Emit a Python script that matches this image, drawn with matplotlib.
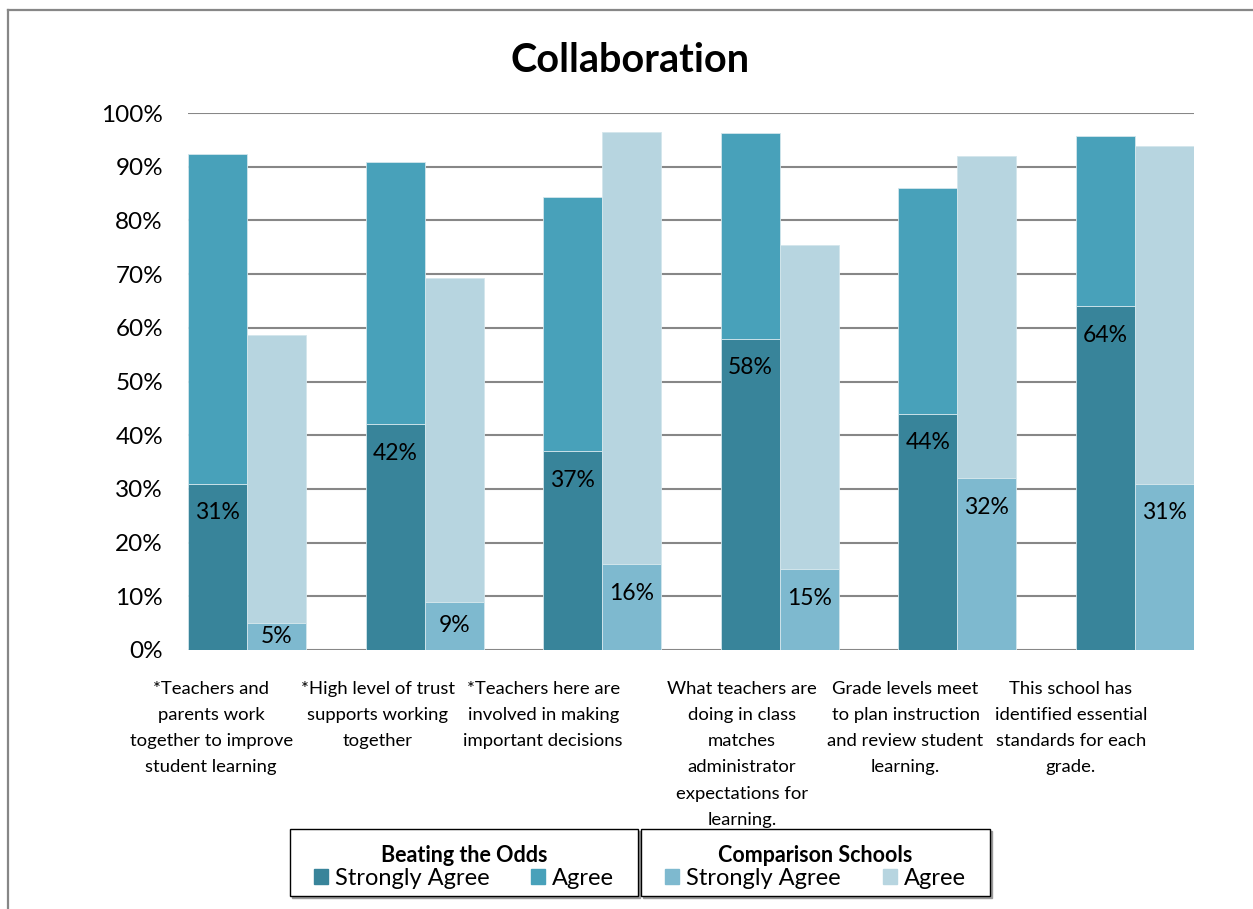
"""Collaboration survey: Beating the Odds vs Comparison Schools, stacked pairs."""
import matplotlib
matplotlib.use("Agg")
import matplotlib.pyplot as plt
import matplotlib.transforms as mtransforms
from matplotlib.patches import Patch, Rectangle
from matplotlib.lines import Line2D
import numpy as np

plt.rcParams["font.family"] = ["Lato", "DejaVu Sans"]

categories = [
    "*Teachers and\nparents work\ntogether to improve\nstudent learning",
    "*High level of trust\nsupports working\ntogether",
    "*Teachers here are\ninvolved in making\nimportant decisions",
    "What teachers are\ndoing in class\nmatches\nadministrator\nexpectations for\nlearning.",
    "Grade levels meet\nto plan instruction\nand review student\nlearning.",
    "This school has\nidentified essential\nstandards for each\ngrade.",
]
# percent of respondents
bto_strongly = [31, 42, 37, 58, 44, 64]
bto_agree = [61.4, 48.8, 47.3, 38.3, 42.1, 31.8]
cs_strongly = [5, 9, 16, 15, 32, 31]
cs_agree = [53.7, 60.3, 80.5, 60.4, 60.0, 62.9]
y_ticks = [0, 10, 20, 30, 40, 50, 60, 70, 80, 90, 100]

C_BTO_SA = "#38849A"
C_BTO_A = "#48A1BA"
C_CS_SA = "#7EB9CF"
C_CS_A = "#B7D5E0"
GRID = "#878787"

W, H = 1253, 909
fig = plt.figure(figsize=(W / 100, H / 100), dpi=100)
ax = fig.add_axes([188 / W, 1 - 650 / H, (1194 - 188) / W, (650 - 113) / H])

bw = 0.332
x = np.arange(len(categories))
edge = dict(edgecolor="#d3e6ec", linewidth=0.6, zorder=3)
ax.bar(x, bto_strongly, bw, align="edge", color=C_BTO_SA, **edge)
ax.bar(x, bto_agree, bw, bottom=bto_strongly, align="edge", color=C_BTO_A, **edge)
ax.bar(x + bw, cs_strongly, bw, align="edge", color=C_CS_SA, **edge)
ax.bar(x + bw, cs_agree, bw, bottom=cs_strongly, align="edge", color=C_CS_A, **edge)

# labels at the inside end of the strongly-agree segment
for xs, vals in ((x + bw / 2, bto_strongly), (x + 1.5 * bw, cs_strongly)):
    for xi, v in zip(xs, vals):
        yl = max(v - 5.4, v / 2)
        ax.text(xi, yl, f"{v:.0f}%", ha="center", va="center",
                fontsize=16.5, color="black", zorder=4)

ax.set_xlim(0, len(categories) - 1 + 2 * bw)
ax.set_ylim(0, 100)
ax.set_yticks(y_ticks)
ax.set_yticklabels([f"{t}%" for t in y_ticks], fontsize=17.5)
ax.set_xticks([])
ax.tick_params(axis="y", length=0, pad=18)
for s in ax.spines.values():
    s.set_visible(False)
for t in y_ticks:
    ax.axhline(t, color=GRID, linewidth=1.5, zorder=1)

# category labels under each pair
label_x = [0.13, 1.07, 2.0, 3.12, 4.04, 4.97]
trans = mtransforms.blended_transform_factory(ax.transData, fig.transFigure)
for lx, name in zip(label_x, categories):
    ax.text(lx, 1 - 681 / H, name, transform=trans, ha="center", va="top",
            fontsize=13.3, linespacing=1.78)

fig.text(630 / W, 1 - 60 / H, "Collaboration", ha="center", va="center",
         fontsize=28.5, fontweight="bold")

# outer chart frame (top and left edges visible)
fig.add_artist(Line2D([8 / W, 1], [1 - 10 / H, 1 - 10 / H], color=GRID,
                      linewidth=1.6, transform=fig.transFigure))
fig.add_artist(Line2D([8 / W, 8 / W], [1 - 10 / H, 0], color=GRID,
                      linewidth=1.6, transform=fig.transFigure))

# two legend boxes
groups = [
    ("Beating the Odds", C_BTO_SA, C_BTO_A, 290, 638),
    ("Comparison Schools", C_CS_SA, C_CS_A, 641, 990),
]
for title, c1, c2, x0, x1 in groups:
    for dx, dy, col in ((2, 2, "#9a9a9a"), (0, 0, "white")):
        fig.add_artist(Rectangle(((x0 + dx) / W, 1 - (896 + dy) / H),
                                 (x1 - x0) / W, (896 - 829) / H,
                                 transform=fig.transFigure, facecolor=col,
                                 edgecolor="black" if col == "white" else col,
                                 linewidth=1.0, zorder=5))
    handles = [Patch(color=c1, label="Strongly Agree"), Patch(color=c2, label="Agree")]
    leg = fig.legend(handles=handles, ncol=2, loc="center",
                     bbox_to_anchor=((x0 + 24) / W, 1 - 891 / H,
                                     (x1 - x0 - 48) / W, 48 / H),
                     mode="expand", frameon=False, fontsize=17,
                     title=title, title_fontproperties={"weight": "bold", "size": 15.5},
                     handlelength=0.6, handleheight=0.6, handletextpad=0.3,
                     borderpad=0, borderaxespad=0, labelspacing=0)
    leg.set_zorder(6)
    leg._legend_box.sep = 1

fig.savefig("out.png", dpi=100)
